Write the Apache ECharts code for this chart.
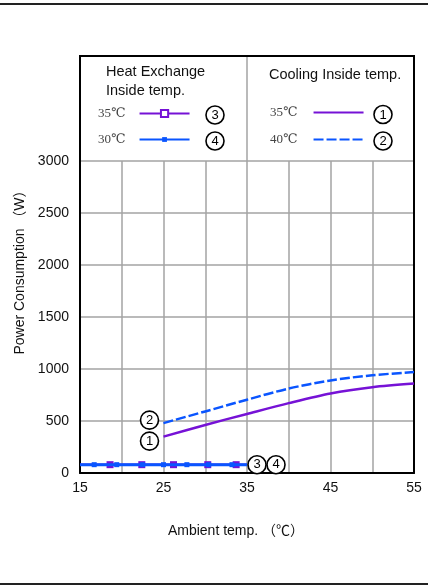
<!DOCTYPE html>
<html><head><meta charset="utf-8">
<script src="https://cdn.jsdelivr.net/npm/echarts@6/dist/echarts.min.js"></script>
<style>html,body{margin:0;padding:0;background:#fff}#c{width:428px;height:585px}</style>
</head><body><div id="c"></div>
<script>
// ---- data ----
const ambientTicks = [15, 25, 35, 45, 55];
const powerTicks = [0, 500, 1000, 1500, 2000, 2500, 3000];
const coolX = [25, 30, 35, 40, 45, 50, 55];
const cool35 = [350, 462, 568, 672, 765, 825, 860];
const cool40 = [480, 592, 705, 812, 890, 940, 970];
const hx35X = [15, 18.6, 22.4, 26.2, 30.3, 33.7, 35];
const hx35 = [80, 80, 80, 80, 80, 80, 80];
const hx30X = [15, 16.7, 19.4, 22.5, 25, 27.8, 30.4, 33.2, 35];
const hx30 = [80, 80, 80, 80, 80, 80, 80, 80, 80];
const seriesNames = ['cool35', 'cool40', 'hx35', 'hx30'];
const legendLabels = { cool35: '35℃', cool40: '40℃', hx35: '35℃', hx30: '30℃' };
const circleNums = { cool35: '1', cool40: '2', hx35: '3', hx30: '4' };
const headerHX = 'Heat Exchange\nInside temp.';
const headerCool = 'Cooling Inside temp.';
const xName = 'Ambient temp. （℃）';
const yName = 'Power Consumption （W）';

const PURPLE = '#7612d6';
const BLUE = '#0a55ff';
const GRID = '#a3a3a3';
const SANS = "'Liberation Sans', Arial, 'Noto Sans CJK SC', sans-serif";
const SERIF = "'Liberation Serif', 'DejaVu Serif', 'Noto Sans CJK SC', serif";

function pairs(xs, ys, endsNone) {
  return xs.map((x, i) => {
    const item = { value: [x, ys[i]] };
    if (endsNone && (i === 0 || i === xs.length - 1)) item.symbol = 'none';
    return item;
  });
}

function circleMark(name, x, y, off) {
  return {
    symbol: 'circle', symbolSize: 18, symbolOffset: off, silent: true,
    itemStyle: { color: '#fff', borderColor: '#000', borderWidth: 1.6 },
    label: { show: true, position: 'inside', formatter: circleNums[name], color: '#000', fontSize: 13, fontFamily: SANS },
    data: [{ coord: [x, y] }]
  };
}

const chart = echarts.init(document.getElementById('c'), null, { renderer: 'canvas' });

function legendAt(name, left, top, pad, noSymbol, iconH) {
  const item = { name: name };
  if (noSymbol) item.itemStyle = { color: 'rgba(0,0,0,0)', borderWidth: 0, opacity: 0 };
  if (name === 'hx35') item.itemStyle = { color: '#fff', borderColor: PURPLE, borderWidth: 2 };
  return {
    data: [item], left: left, top: top, padding: 0, align: 'right',
    itemWidth: 50, itemHeight: iconH, selectedMode: false,
    formatter: n => legendLabels[n],
    textStyle: { fontFamily: SERIF, fontSize: 13, color: '#444', padding: [0, pad, 0, 0] }
  };
}

const option = {
  animation: false,
  backgroundColor: '#fff',
  grid: { left: 80, right: 14, top: 161, bottom: 112, containLabel: false },
  legend: [
    legendAt('hx35', 98, 107, 9, false, 9),
    legendAt('hx30', 98, 133, 9, false, 6),
    legendAt('cool35', 270, 106, 11, true, 9),
    legendAt('cool40', 270, 133, 11, true, 9)
  ],
  xAxis: {
    type: 'value', min: 15, max: 55, interval: 5,
    name: xName, nameLocation: 'middle', nameGap: 51,
    nameTextStyle: { fontFamily: SANS, fontSize: 14, color: '#111', padding: [0, 22, 0, 0] },
    axisLine: { show: true, lineStyle: { color: '#000', width: 2 } },
    axisTick: { show: false },
    axisLabel: { margin: 8, fontFamily: SANS, fontSize: 14, color: '#111',
      formatter: v => ambientTicks.includes(v) ? String(v) : '' },
    splitLine: { show: true, lineStyle: { color: GRID, width: 1.5 } }
  },
  yAxis: [{
    type: 'value', min: 0, max: 3000, interval: 500,
    name: yName, nameLocation: 'middle', nameGap: 49,
    nameTextStyle: { fontFamily: SANS, fontSize: 14, color: '#111', padding: [0, 0, 0, 96] },
    axisLine: { show: true, lineStyle: { color: '#000', width: 2 } },
    axisTick: { show: false },
    axisLabel: { margin: 11, fontFamily: SANS, fontSize: 14, color: '#111',
      formatter: v => powerTicks.includes(v) ? String(v) : '' },
    splitLine: { show: true, lineStyle: { color: GRID, width: 1.5 } }
  }, {
    type: 'value', min: 0, max: 3000, interval: 500, position: 'right',
    axisLine: { show: true, onZero: false, lineStyle: { color: '#000', width: 2 } },
    axisTick: { show: false }, axisLabel: { show: false }, splitLine: { show: false }
  }],
  series: [
    {
      name: 'hx35', type: 'line', data: pairs(hx35X, hx35, true), z: 2,
      symbol: 'rect', symbolSize: 7, showSymbol: true,
      itemStyle: { color: PURPLE },
      lineStyle: { color: PURPLE, width: 2.5 },
      markPoint: circleMark('hx35', hx35X[hx35X.length - 1], hx35[hx35.length - 1], [10, 0])
    },
    {
      name: 'hx30', type: 'line', data: pairs(hx30X, hx30, true), z: 3,
      symbol: 'rect', symbolSize: 5, showSymbol: true,
      itemStyle: { color: BLUE },
      lineStyle: { color: BLUE, width: 3 },
      markPoint: circleMark('hx30', hx30X[hx30X.length - 1], hx30[hx30.length - 1], [29, 0])
    },
    {
      name: 'cool35', type: 'line', data: pairs(coolX, cool35, false), z: 3,
      smooth: 0.3, symbol: 'none', showSymbol: false,
      itemStyle: { color: PURPLE },
      lineStyle: { color: PURPLE, width: 2.5 },
      markPoint: circleMark('cool35', coolX[0], cool35[0], [-14, 4.5])
    },
    {
      name: 'cool40', type: 'line', data: pairs(coolX, cool40, false), z: 3,
      smooth: 0.3, symbol: 'none', showSymbol: false,
      itemStyle: { color: BLUE },
      lineStyle: { color: BLUE, width: 2.5, type: [10, 3] },
      markPoint: circleMark('cool40', coolX[0], cool40[0], [-14, -3])
    }
  ]
};
chart.setOption(option);

// ---- decorations: legend box, frame lines, headers, legend circles ----
const pL = chart.convertToPixel({ gridIndex: 0 }, [15, 3000]);
const pR = chart.convertToPixel({ gridIndex: 0 }, [55, 3000]);
const pM = chart.convertToPixel({ gridIndex: 0 }, [35, 3000]);
const boxTop = 56;

function legendCircle(name, cx, cy) {
  return {
    type: 'group', x: cx, y: cy, children: [
      { type: 'circle', shape: { cx: 0, cy: 0, r: 9 }, style: { fill: '#fff', stroke: '#000', lineWidth: 1.6 } },
      { type: 'text', style: { text: circleNums[name], x: 0, y: 0.5, align: 'center', verticalAlign: 'middle', font: '13px ' + SANS, fill: '#000' } }
    ]
  };
}

chart.setOption({
  graphic: [
    { type: 'line', shape: { x1: 0, y1: 4, x2: 428, y2: 4 }, style: { stroke: '#222', lineWidth: 2 } },
    { type: 'line', shape: { x1: 0, y1: 584, x2: 428, y2: 584 }, style: { stroke: '#222', lineWidth: 2 } },
    { type: 'line', shape: { x1: pM[0], y1: boxTop, x2: pM[0], y2: pM[1] }, style: { stroke: GRID, lineWidth: 1.5 } },
    { type: 'polyline', shape: { points: [[pL[0], pL[1]], [pL[0], boxTop], [pR[0], boxTop], [pR[0], pR[1]]] }, style: { stroke: '#000', lineWidth: 2, fill: null } },
    { type: 'text', style: { text: headerHX, x: 106, y: 63, font: '14.5px ' + SANS, fill: '#111', lineHeight: 18.5 } },
    { type: 'text', style: { text: headerCool, x: 269, y: 68, font: '14.5px ' + SANS, fill: '#111' } },
    legendCircle('hx35', 215, 115),
    legendCircle('hx30', 215, 141),
    legendCircle('cool35', 383, 114.5),
    legendCircle('cool40', 383, 141)
  ]
});
</script></body></html>
